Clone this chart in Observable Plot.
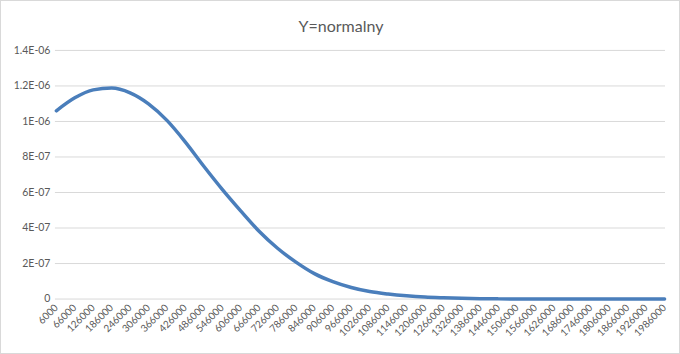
<!DOCTYPE html>
<html>
<head>
<meta charset="utf-8">
<script src="https://cdn.jsdelivr.net/npm/d3@7"></script>
<script src="https://cdn.jsdelivr.net/npm/@observablehq/plot@0.6"></script>
<style>
  html, body { margin: 0; padding: 0; background: #fff; }
  #chart { position: relative; width: 680px; height: 354px; box-sizing: border-box; border: 1px solid #d9d9d9; overflow: hidden; }
  #title { position: absolute; left: 0; top: 15px; width: 680px; text-align: center; font-family: Lato, "Open Sans", sans-serif; font-size: 16px; color: #595959; }
  #plot { position: absolute; left: -1px; top: -1px; }
</style>
</head>
<body>
<div id="chart">
  <div id="plot"></div>
  <div id="title">Y=normalny</div>
</div>
<script>
// Categories (x values shown as tick labels)
const xValues = [6000, 66000, 126000, 186000, 246000, 306000, 366000, 426000, 486000, 546000,
  606000, 666000, 726000, 786000, 846000, 906000, 966000, 1026000, 1086000, 1146000,
  1206000, 1266000, 1326000, 1386000, 1446000, 1506000, 1566000, 1626000, 1686000, 1746000,
  1806000, 1866000, 1926000, 1986000];

// Series values
const yValues = [1.060e-6, 1.133e-6, 1.178e-6, 1.188e-6, 1.161e-6, 1.099e-6, 1.006e-6, 0.884e-6, 0.748e-6, 0.618e-6,
  0.497e-6, 0.382e-6, 0.286e-6, 0.208e-6, 0.143e-6, 0.098e-6, 0.065e-6, 0.042e-6, 0.028e-6, 0.018e-6,
  0.011e-6, 0.007e-6, 0.004e-6, 0.002e-6, 0.001e-6, 0.0005e-6, 0.0002e-6, 0.0001e-6, 0, 0,
  0, 0, 0, 0];

// Y tick values and labels
const yTicks = [0, 2e-7, 4e-7, 6e-7, 8e-7, 1e-6, 1.2e-6, 1.4e-6];
const yTickLabels = ["0", "2E-07", "4E-07", "6E-07", "8E-07", "1E-06", "1.2E-06", "1.4E-06"];

const data = xValues.map((x, i) => ({x, y: yValues[i]}));

const tickFont = 'Lato, "Open Sans", sans-serif';

const plot = Plot.plot({
  width: 680,
  height: 354,
  marginLeft: 55,
  marginRight: 14,
  marginTop: 50,
  marginBottom: 55,
  style: { fontFamily: tickFont, fontSize: "10px", color: "#595959", background: "transparent" },
  x: { domain: [3000, 1989000], ticks: xValues, tickFormat: d => String(d), label: null },
  y: { domain: [0, 1.4e-6], ticks: yTicks, label: null },
  marks: [
    Plot.gridY(yTicks, { stroke: "#d9d9d9", strokeOpacity: 1, strokeWidth: 1 }),
    Plot.axisY(yTicks, { tickSize: 0, tickPadding: 5, tickFormat: (d, i) => yTickLabels[i], fill: "#595959", fontSize: 10.5, label: null }),
    Plot.axisX(xValues, { tickSize: 0, tickPadding: 7, tickRotate: -45, tickFormat: d => String(d), fill: "#595959", fontSize: 10, label: null }),
    Plot.line(data, { x: "x", y: "y", stroke: "#4a7ebb", strokeWidth: 3.5, curve: "monotone-x" })
  ]
});
document.getElementById("plot").appendChild(plot);
</script>
</body>
</html>
